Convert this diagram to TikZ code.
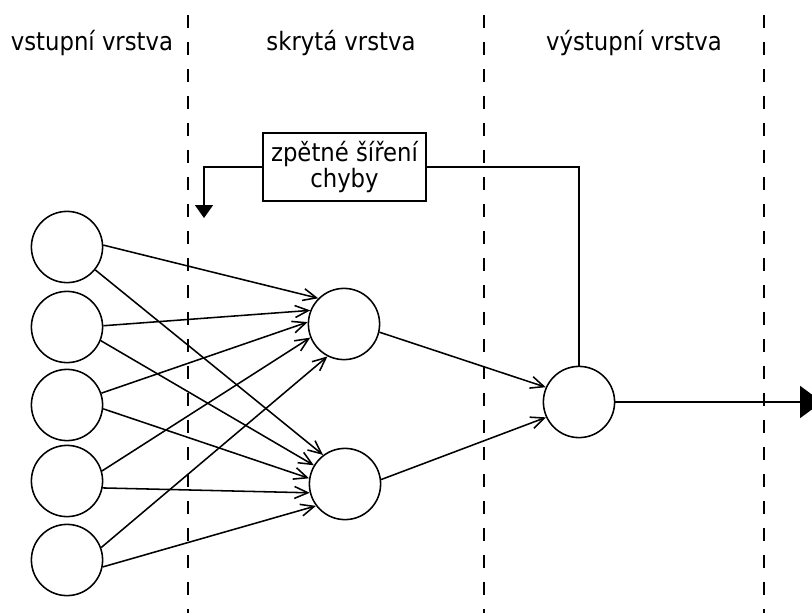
\documentclass[tikz,border=0pt]{standalone}
\usepackage{fontspec}
\setmainfont{DejaVu Sans Condensed}
\usetikzlibrary{arrows.meta}

\begin{document}
\begin{tikzpicture}[x=0.025cm,y=-0.025cm,
    neuron/.style={draw,circle,line width=1.1pt,minimum size=1.78cm,inner sep=0pt},
    syn/.style={line width=1.1pt,-{Straight Barb[length=9.5pt,width=8.5pt]}},
    divider/.style={line width=1.1pt,dash pattern=on 9.2pt off 10pt},
    lbl/.style={anchor=base,font=\fontsize{18}{22}\selectfont}]
  \clip (0,0) rectangle (812,613);
  \fill[white] (0,0) rectangle (812,613);
  \foreach \x in {188,484,764}
    \draw[divider] (\x,15) -- (\x,613);
  \node[lbl] (l1) at (92,50) {vstupní vrstva};
  \node[lbl] (l2) at (341,50) {skrytá vrstva};
  \node[lbl] (l3) at (634,50) {výstupní vrstva};
  \foreach \y [count=\i] in {247,327,405,481,560}
    \node[neuron] (in\i) at (67,\y) {};
  \node[neuron] (h1) at (344,324) {};
  \node[neuron] (h2) at (345,484) {};
  \node[neuron] (out) at (579,402) {};
  \foreach \i/\a/\b in {1/3/135,2/2/158,3/19/177,4/16/202,5/20/243}
    \draw[syn] (in\i.\a) -- (h1.\b);
  \foreach \i/\a/\b in {1/321/127,2/338/149,3/354/171,4/349/194,5/349/217}
    \draw[syn] (in\i.\a) -- (h2.\b);
  \draw[syn] (h1.347) -- (out.156);
  \draw[syn] (h2.7) -- (out.205);
  \node[draw,line width=1.1pt,minimum width=4.075cm,minimum height=1.7cm,inner sep=0pt,
        align=center,font=\fontsize{18}{19}\selectfont] (bp) at (344.5,167) {zpětné šíření\\chyby};
  \coordinate (bpend) at (204,218);
  \coordinate (outend) at (822,402);
  \draw[line width=1.1pt] (out.north) |- (bp.east);
  \draw[line width=1.1pt,-{Triangle[length=9.2pt,width=12.8pt]}] (bp.west) -| (bpend);
  \draw[line width=1.1pt,-{Triangle[length=15.6pt,width=22.8pt]}] (out.east) -- (outend);
\end{tikzpicture}
\end{document}
